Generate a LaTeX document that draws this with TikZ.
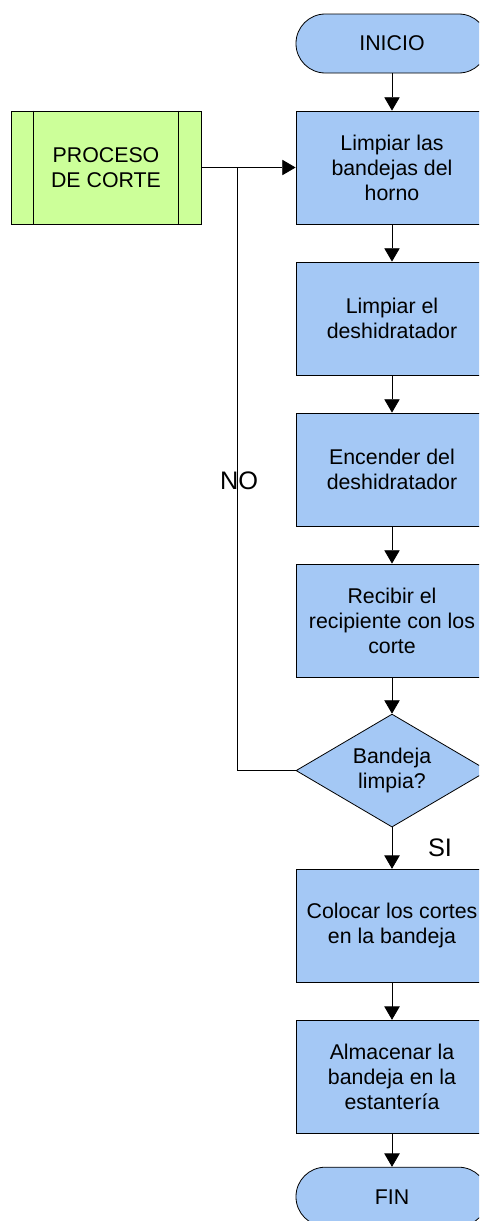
\documentclass[tikz,border=0pt]{standalone}
\usepackage{fontspec}
\setmainfont{Liberation Sans}
\usetikzlibrary{positioning, shapes.geometric, arrows.meta}
\definecolor{cajaazul}{RGB}{164,200,245}
\definecolor{cajaverde}{RGB}{204,255,153}
\tikzset{
    paso/.style = {shape = rectangle, draw, fill = cajaazul, align = center,
        minimum width = 144pt, minimum height = 84.75pt, inner sep = 1pt},
    terminal/.style = {shape = rectangle, draw, fill = cajaazul, rounded corners = 22pt,
        minimum width = 144pt, minimum height = 44.25pt},
    decision/.style = {shape = diamond, draw, fill = cajaazul, align = center, aspect = 1.7,
        minimum width = 144pt, minimum height = 84.75pt, inner sep = 0pt},
    subproceso/.style = {shape = rectangle, draw, fill = cajaverde, align = center,
        minimum width = 142.5pt, minimum height = 84.75pt},
    flecha/.style = {-{Triangle[length = 10pt, width = 11.5pt]}},
    etiqueta/.style = {font = \fontsize{19pt}{22pt}\selectfont}
}
\begin{document}
\begin{tikzpicture}[x = 0.75pt, y = -0.75pt, line width = 0.6pt, node distance = 27.9pt,
    every node/.style = {font = \fontsize{16pt}{18.75pt}\selectfont}]
    \clip (0,0) rectangle (479,1221);
    \useasboundingbox (0,0) rectangle (479,1221);
    % columna principal
    \node[terminal] (inicio) at (392,43.5) {INICIO};
    \node[paso, below = of inicio] (bandejas) {Limpiar las\\bandejas del\\horno};
    \node[paso, below = of bandejas] (deshid) {Limpiar el\\deshidratador};
    \node[paso, below = of deshid] (encender) {Encender del\\deshidratador};
    \node[paso, below = of encender] (recibir) {Recibir el\\recipiente con los\\corte};
    \node[decision, below = 27.2pt of recibir] (limpia) {Bandeja\\limpia?};
    \node[paso, below = 31pt of limpia] (colocar) {Colocar los cortes\\en la bandeja};
    \node[paso, below = of colocar] (almacenar) {Almacenar la\\bandeja en la\\estantería};
    \node[terminal, below = 24.9pt of almacenar] (fin) {FIN};
    % proceso de corte
    \node[subproceso] (corte) at (106,167.5) {PROCESO\\DE CORTE};
    \draw ([xshift = 17.25pt]corte.north west) -- ([xshift = 17.25pt]corte.south west);
    \draw ([xshift = -17.25pt]corte.north east) -- ([xshift = -17.25pt]corte.south east);
    \coordinate (union) at (237,167.5);
    % conectores
    \draw[flecha] (inicio) -- (bandejas);
    \draw[flecha] (bandejas) -- (deshid);
    \draw[flecha] (deshid) -- (encender);
    \draw[flecha] (encender) -- (recibir);
    \draw[flecha] (recibir) -- (limpia);
    \draw[flecha] (limpia) -- (colocar);
    \draw[flecha] (colocar) -- (almacenar);
    \draw[flecha] (almacenar) -- (fin);
    \draw[flecha] (corte) -- (bandejas);
    \draw (limpia.west) -| (union);
    \node[etiqueta] (no) at (239,481) {NO};
    \node[etiqueta] (si) at (440,848) {SI};
\end{tikzpicture}
\end{document}
